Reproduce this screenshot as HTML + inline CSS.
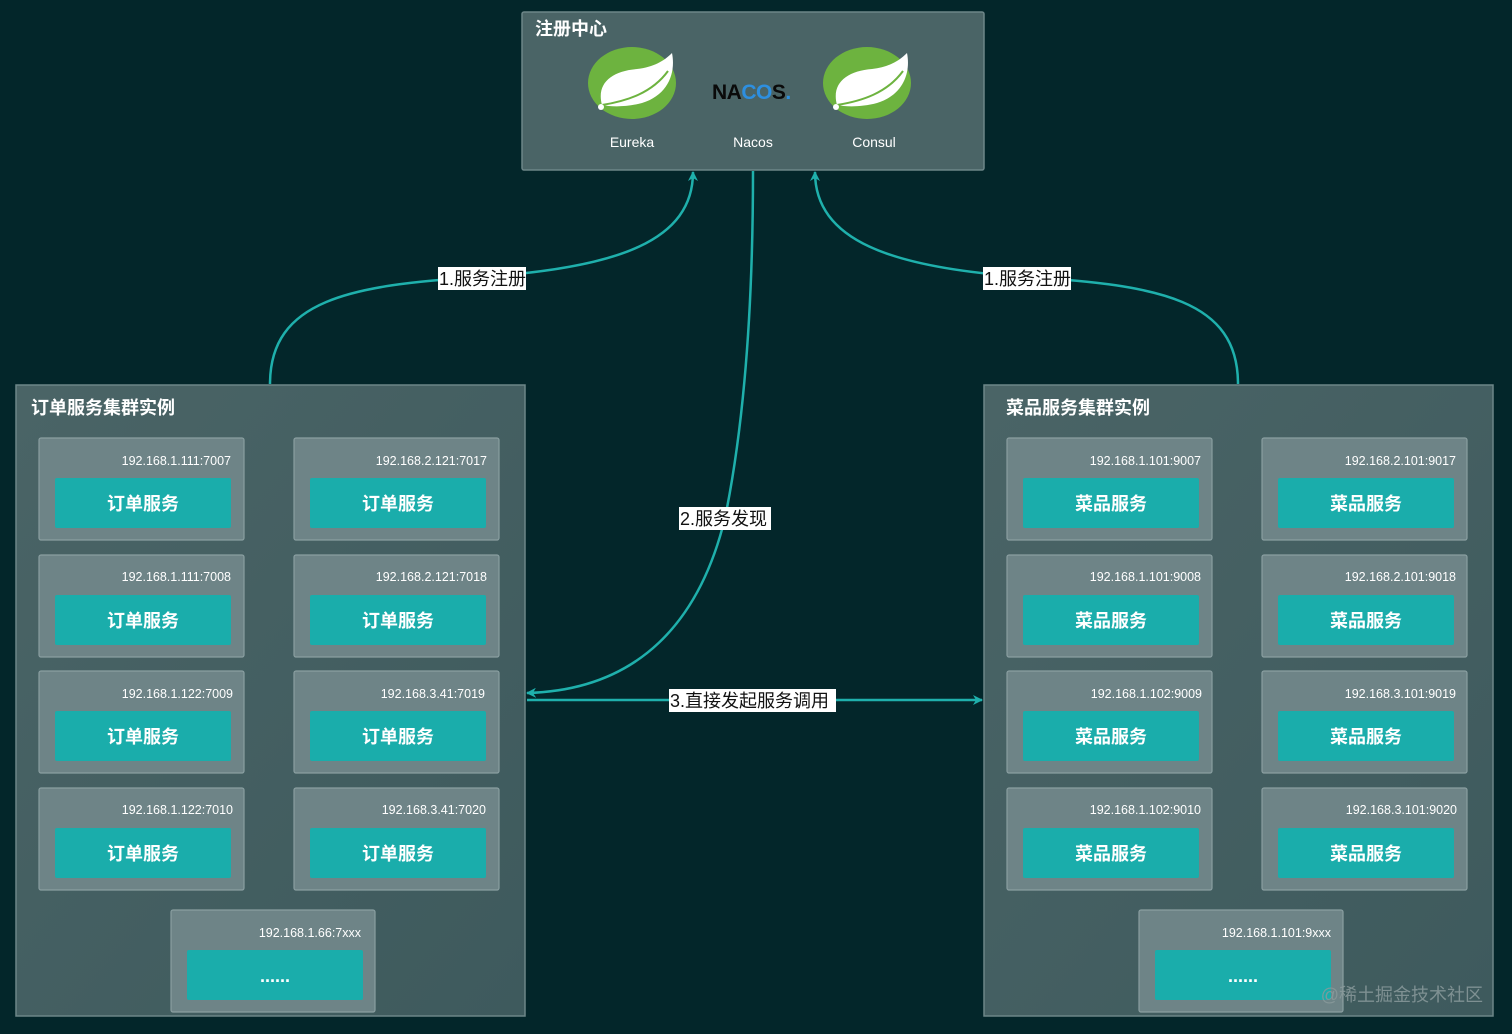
<!DOCTYPE html>
<html><head><meta charset="utf-8"><style>
html,body{margin:0;padding:0;background:#03262a;}
svg{display:block;font-family:"Liberation Sans","Noto Sans CJK SC",sans-serif;}
</style></head><body>
<svg width="1512" height="1034" viewBox="0 0 1512 1034" xmlns="http://www.w3.org/2000/svg">
<defs>
<linearGradient id="pg" x1="0" y1="0" x2="1" y2="1"><stop offset="0" stop-color="#4a6466"/><stop offset="1" stop-color="#3e5a5d"/></linearGradient>
<marker id="ar" markerWidth="10" markerHeight="10" refX="9" refY="5" orient="auto" markerUnits="userSpaceOnUse"><path d="M0,0 L10,5 L0,10 L3,5 z" fill="#1fb0ac"/></marker>
<g id="leaf">
<ellipse cx="0" cy="0" rx="44" ry="36" fill="#6db33f"/>
<path d="M-30,22 C-36,0 -20,-12 5,-14 C22,-16 32,-22 40,-30 C44,-10 36,12 10,20 C-5,24 -20,24 -30,22 z" fill="#fff"/>
<path d="M-30,22 C-5,18 20,10 36,-12" stroke="#6db33f" stroke-width="2" fill="none"/>
<circle cx="-31" cy="24" r="3" fill="#fff"/>
</g>
</defs>
<rect width="1512" height="1034" fill="#03262a"/>

<rect x="522" y="12" width="462" height="158" rx="2" fill="#4a6466" stroke="#6d8688" stroke-width="1.5"/>
<text x="535" y="35" font-size="18" font-weight="bold" fill="#fff">注册中心</text>
<use href="#leaf" x="632" y="83"/>
<use href="#leaf" x="867" y="83"/>
<text x="712" y="99" font-size="21" font-weight="bold" fill="#0a0a0a" letter-spacing="-0.5">NA<tspan fill="#2d8fe0">CO</tspan>S<tspan fill="#2d8fe0">.</tspan></text>
<text x="632" y="147" font-size="14" fill="#fff" text-anchor="middle">Eureka</text>
<text x="753" y="147" font-size="14" fill="#fff" text-anchor="middle">Nacos</text>
<text x="874" y="147" font-size="14" fill="#fff" text-anchor="middle">Consul</text>

<rect x="16" y="385" width="509" height="631" fill="url(#pg)" stroke="#6d8688" stroke-width="1.5"/>
<rect x="984" y="385" width="509" height="631" fill="url(#pg)" stroke="#6d8688" stroke-width="1.5"/>
<text x="31" y="414" font-size="18" font-weight="bold" fill="#fff">订单服务集群实例</text>
<text x="1006" y="414" font-size="18" font-weight="bold" fill="#fff">菜品服务集群实例</text>

<g stroke="#8a9fa1" stroke-width="1.2" fill="#6e8487">
<rect x="39" y="438" width="205" height="102" rx="2"/><rect x="294" y="438" width="205" height="102" rx="2"/>
<rect x="39" y="555" width="205" height="102" rx="2"/><rect x="294" y="555" width="205" height="102" rx="2"/>
<rect x="39" y="671" width="205" height="102" rx="2"/><rect x="294" y="671" width="205" height="102" rx="2"/>
<rect x="39" y="788" width="205" height="102" rx="2"/><rect x="294" y="788" width="205" height="102" rx="2"/>
<rect x="171" y="910" width="204" height="102" rx="2"/>
<rect x="1007" y="438" width="205" height="102" rx="2"/><rect x="1262" y="438" width="205" height="102" rx="2"/>
<rect x="1007" y="555" width="205" height="102" rx="2"/><rect x="1262" y="555" width="205" height="102" rx="2"/>
<rect x="1007" y="671" width="205" height="102" rx="2"/><rect x="1262" y="671" width="205" height="102" rx="2"/>
<rect x="1007" y="788" width="205" height="102" rx="2"/><rect x="1262" y="788" width="205" height="102" rx="2"/>
<rect x="1139" y="910" width="204" height="102" rx="2"/>
</g>
<g fill="#1aadab">
<rect x="55" y="478" width="176" height="50" rx="2"/><rect x="310" y="478" width="176" height="50" rx="2"/>
<rect x="55" y="595" width="176" height="50" rx="2"/><rect x="310" y="595" width="176" height="50" rx="2"/>
<rect x="55" y="711" width="176" height="50" rx="2"/><rect x="310" y="711" width="176" height="50" rx="2"/>
<rect x="55" y="828" width="176" height="50" rx="2"/><rect x="310" y="828" width="176" height="50" rx="2"/>
<rect x="187" y="950" width="176" height="50" rx="2"/>
<rect x="1023" y="478" width="176" height="50" rx="2"/><rect x="1278" y="478" width="176" height="50" rx="2"/>
<rect x="1023" y="595" width="176" height="50" rx="2"/><rect x="1278" y="595" width="176" height="50" rx="2"/>
<rect x="1023" y="711" width="176" height="50" rx="2"/><rect x="1278" y="711" width="176" height="50" rx="2"/>
<rect x="1023" y="828" width="176" height="50" rx="2"/><rect x="1278" y="828" width="176" height="50" rx="2"/>
<rect x="1155" y="950" width="176" height="50" rx="2"/>
</g>
<g font-size="12.5" fill="#fff" text-anchor="end">
<text x="231" y="465">192.168.1.111:7007</text><text x="487" y="465">192.168.2.121:7017</text>
<text x="231" y="581">192.168.1.111:7008</text><text x="487" y="581">192.168.2.121:7018</text>
<text x="233" y="698">192.168.1.122:7009</text><text x="485" y="698">192.168.3.41:7019</text>
<text x="233" y="814">192.168.1.122:7010</text><text x="486" y="814">192.168.3.41:7020</text>
<text x="361" y="937">192.168.1.66:7xxx</text>
<text x="1201" y="465">192.168.1.101:9007</text><text x="1456" y="465">192.168.2.101:9017</text>
<text x="1201" y="581">192.168.1.101:9008</text><text x="1456" y="581">192.168.2.101:9018</text>
<text x="1202" y="698">192.168.1.102:9009</text><text x="1456" y="698">192.168.3.101:9019</text>
<text x="1201" y="814">192.168.1.102:9010</text><text x="1457" y="814">192.168.3.101:9020</text>
<text x="1331" y="937">192.168.1.101:9xxx</text>
</g>
<g font-size="18" font-weight="bold" fill="#fff" text-anchor="middle">
<text x="143" y="510">订单服务</text><text x="398" y="510">订单服务</text>
<text x="143" y="627">订单服务</text><text x="398" y="627">订单服务</text>
<text x="143" y="743">订单服务</text><text x="398" y="743">订单服务</text>
<text x="143" y="860">订单服务</text><text x="398" y="860">订单服务</text>
<text x="275" y="982">......</text>
<text x="1111" y="510">菜品服务</text><text x="1366" y="510">菜品服务</text>
<text x="1111" y="627">菜品服务</text><text x="1366" y="627">菜品服务</text>
<text x="1111" y="743">菜品服务</text><text x="1366" y="743">菜品服务</text>
<text x="1111" y="860">菜品服务</text><text x="1366" y="860">菜品服务</text>
<text x="1243" y="982">......</text>
</g>

<g stroke="#1fb0ac" stroke-width="2.5" fill="none">
<path d="M270,384 C270,300 350,285 480,277 C620,268 693,240 693,172" marker-end="url(#ar)"/>
<path d="M1238,384 C1238,300 1160,285 1026,277 C890,268 815,240 815,172" marker-end="url(#ar)"/>
<path d="M753,171 C753,300 745,420 725,518 C700,620 640,690 527,693" marker-end="url(#ar)"/>
<path d="M527,700 L982,700" marker-end="url(#ar)"/>
</g>
<g font-size="18" fill="#111">
<rect x="438" y="267" width="88" height="23" fill="#fff"/><text x="439" y="285">1.服务注册</text>
<rect x="983" y="267" width="88" height="23" fill="#fff"/><text x="984" y="285">1.服务注册</text>
<rect x="679" y="507" width="92" height="23" fill="#fff"/><text x="680" y="525">2.服务发现</text>
<rect x="669" y="689" width="167" height="23" fill="#fff"/><text x="670" y="707">3.直接发起服务调用</text>
</g>
<text x="1483" y="1001" font-size="18" fill="#8a9a9b" fill-opacity="0.85" text-anchor="end">@稀土掘金技术社区</text>
</svg>
</body></html>
